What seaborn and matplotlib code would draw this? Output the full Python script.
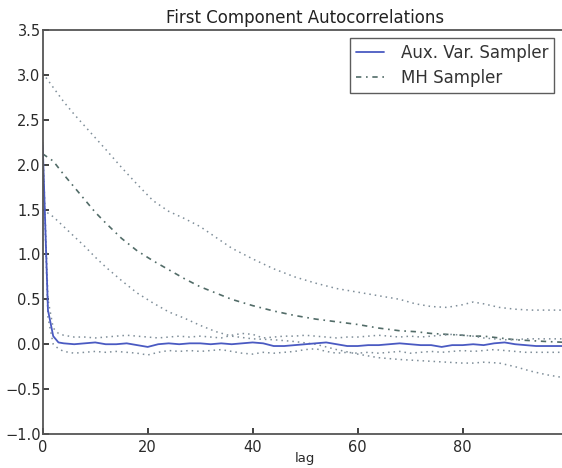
import matplotlib
matplotlib.use("Agg")
import matplotlib.pyplot as plt
import seaborn as sns
import numpy as np

# ---- data ----
lags_aux = [0, 1, 2, 3, 4, 6, 8, 10, 12, 14, 16, 18, 20, 22, 24, 26, 28, 30, 32, 34, 36, 38,
            40, 42, 44, 46, 48, 50, 52, 54, 56, 58, 60, 62, 64, 66, 68, 70, 72, 74, 76, 78,
            80, 82, 84, 86, 88, 90, 92, 94, 96, 98, 100]
aux_mean = [2.22, 0.38, 0.09, 0.02, 0.01, 0.00, 0.01, 0.02, 0.00, 0.00, 0.01, -0.01, -0.03,
            0.00, 0.01, 0.00, 0.01, 0.01, 0.00, 0.01, 0.00, 0.01, 0.02, 0.01, -0.02, -0.02,
            -0.01, 0.00, 0.01, 0.02, 0.00, -0.02, -0.02, -0.01, -0.01, 0.00, 0.01, 0.00,
            -0.01, -0.01, -0.03, -0.01, -0.01, 0.00, -0.01, 0.01, 0.02, 0.00, -0.01, -0.02,
            -0.02, -0.02, -0.02]
aux_upper = [2.25, 0.50, 0.18, 0.12, 0.10, 0.08, 0.08, 0.07, 0.08, 0.09, 0.10, 0.09, 0.08,
             0.07, 0.08, 0.09, 0.08, 0.09, 0.08, 0.07, 0.10, 0.12, 0.11, 0.07, 0.08, 0.09,
             0.09, 0.10, 0.09, 0.08, 0.07, 0.08, 0.08, 0.09, 0.10, 0.09, 0.08, 0.09, 0.08,
             0.09, 0.10, 0.11, 0.10, 0.09, 0.07, 0.06, 0.05, 0.05, 0.06, 0.06, 0.06, 0.06, 0.06]
aux_lower = [2.15, 0.30, 0.00, -0.05, -0.08, -0.10, -0.09, -0.08, -0.09, -0.08, -0.09, -0.10,
             -0.12, -0.09, -0.07, -0.08, -0.07, -0.08, -0.07, -0.06, -0.08, -0.10, -0.11,
             -0.09, -0.10, -0.09, -0.08, -0.06, -0.05, -0.08, -0.10, -0.09, -0.10, -0.09,
             -0.10, -0.09, -0.08, -0.10, -0.09, -0.08, -0.09, -0.08, -0.07, -0.08, -0.07,
             -0.06, -0.07, -0.08, -0.09, -0.09, -0.09, -0.09, -0.09]

lags_mh = [0, 2, 4, 6, 8, 10, 12, 15, 18, 21, 24, 27, 30, 33, 36, 40, 44, 48, 52, 56, 60,
           64, 68, 71, 74, 77, 80, 82, 84, 87, 90, 93, 96, 100]
mh_upper = [3.02, 2.86, 2.70, 2.56, 2.43, 2.30, 2.17, 1.97, 1.78, 1.60, 1.48, 1.40, 1.31,
            1.19, 1.07, 0.95, 0.84, 0.75, 0.68, 0.62, 0.58, 0.54, 0.50, 0.45, 0.42, 0.41,
            0.44, 0.47, 0.45, 0.41, 0.39, 0.38, 0.38, 0.38]
mh_mean = [2.12, 2.04, 1.89, 1.75, 1.61, 1.47, 1.35, 1.18, 1.04, 0.93, 0.83, 0.73, 0.64,
           0.57, 0.50, 0.43, 0.37, 0.32, 0.28, 0.25, 0.22, 0.18, 0.15, 0.14, 0.12, 0.11,
           0.10, 0.09, 0.09, 0.07, 0.05, 0.04, 0.03, 0.02]
mh_lower = [1.50, 1.42, 1.31, 1.20, 1.09, 0.97, 0.86, 0.71, 0.57, 0.46, 0.36, 0.29, 0.21,
            0.14, 0.09, 0.06, 0.05, 0.03, 0.00, -0.06, -0.11, -0.15, -0.17, -0.18, -0.19,
            -0.20, -0.21, -0.21, -0.20, -0.21, -0.25, -0.30, -0.34, -0.38]

title = "First Component Autocorrelations"
xlabel = "lag"
labels = ["Aux. Var. Sampler", "MH Sampler"]
xticks = [0, 20, 40, 60, 80]
yticks = [-1.0, -0.5, 0.0, 0.5, 1.0, 1.5, 2.0, 2.5, 3.0, 3.5]

# ---- style ----
sns.set_theme(style="white")
plt.rcParams["font.family"] = ["DejaVu Sans"]

fig = plt.figure(figsize=(5.62, 4.68), dpi=100)
ax = fig.add_axes([0.076, 0.0726, 0.934, 0.8634])

blue = "#4a5ac2"
band_col = "#7f8e99"
mh_col = "#526c68"
dot = (1, 2.6)
dashdot = (3.2, 2.8, 1.0, 2.8)

# MH bands and mean
sns.lineplot(x=lags_mh, y=mh_upper, ax=ax, color=band_col, lw=1.1, dashes=False)
sns.lineplot(x=lags_mh, y=mh_lower, ax=ax, color=band_col, lw=1.1, dashes=False)
sns.lineplot(x=lags_mh, y=mh_mean, ax=ax, color=mh_col, lw=1.2, dashes=False,
             label=labels[1])
# Aux bands and mean
sns.lineplot(x=lags_aux, y=aux_upper, ax=ax, color=band_col, lw=1.1, dashes=False)
sns.lineplot(x=lags_aux, y=aux_lower, ax=ax, color=band_col, lw=1.1, dashes=False)
sns.lineplot(x=lags_aux, y=aux_mean, ax=ax, color=blue, lw=1.3, dashes=False,
             label=labels[0])

lines = ax.get_lines()
for ln in (lines[0], lines[1], lines[3], lines[4]):
    ln.set_dashes(dot)
lines[2].set_dashes(dashdot)

ax.set_xlim(0, 100)
ax.set_ylim(-1.0, 3.5)
ax.set_xticks(xticks)
ax.set_yticks(yticks)
ax.set_yticklabels([f"{v:.1f}".replace("-", "\u2212") for v in yticks])
ax.tick_params(direction="in", length=4, labelsize=10.5, colors="#2a2a2a",
               left=True, bottom=True)
ax.tick_params(axis="y", pad=1.5)
ax.tick_params(axis="x", pad=4.5)
for side in ("left", "bottom", "top", "right"):
    ax.spines[side].set_visible(True)
    ax.spines[side].set_color("#555555")
    ax.spines[side].set_linewidth(1.3)

ax.set_title(title, fontsize=12, color="#222222", pad=5)
ax.set_xlabel(xlabel, fontsize=9.5, color="#2a2a2a", labelpad=-2)
ax.set_ylabel("")

handles, labs = ax.get_legend_handles_labels()
order = [labs.index(labels[0]), labs.index(labels[1])]
leg = ax.legend([handles[i] for i in order], [labs[i] for i in order],
                loc="upper right", fontsize=12, fancybox=False, frameon=True,
                borderaxespad=0.5, handlelength=1.7, labelspacing=0.4,
                borderpad=0.35, handletextpad=1.0,
                bbox_to_anchor=(0.9905, 1.0), bbox_transform=ax.transAxes)
leg.get_frame().set_edgecolor("#333333")
leg.get_frame().set_linewidth(1.0)
for t in leg.get_texts():
    t.set_color("#333333")

fig.savefig("out.png", dpi=100)
